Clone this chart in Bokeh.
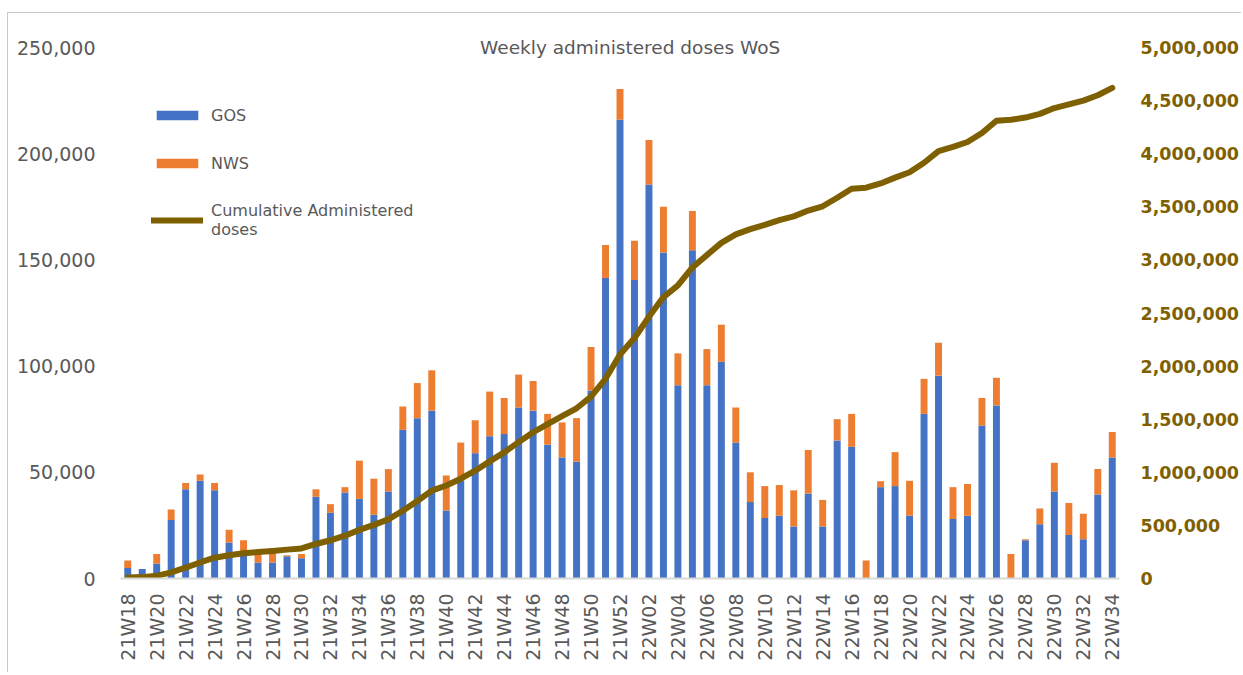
from bokeh.plotting import figure
from bokeh.models import (ColumnDataSource, Range1d, LinearAxis, NumeralTickFormatter,
                          FixedTicker, Legend, LegendItem, Label)
from bokeh.embed import file_html
from bokeh.resources import INLINE
from math import pi

weeks = ["21W18", "21W19", "21W20", "21W21", "21W22", "21W23", "21W24", "21W25", "21W26", "21W27",
         "21W28", "21W29", "21W30", "21W31", "21W32", "21W33", "21W34", "21W35", "21W36", "21W37",
         "21W38", "21W39", "21W40", "21W41", "21W42", "21W43", "21W44", "21W45", "21W46", "21W47",
         "21W48", "21W49", "21W50", "21W51", "21W52", "22W01", "22W02", "22W03", "22W04", "22W05",
         "22W06", "22W07", "22W08", "22W09", "22W10", "22W11", "22W12", "22W13", "22W14", "22W15",
         "22W16", "22W17", "22W18", "22W19", "22W20", "22W21", "22W22", "22W23", "22W24", "22W25",
         "22W26", "22W27", "22W28", "22W29", "22W30", "22W31", "22W32", "22W33", "22W34"]

gos = [5000, 4500, 7000, 27500, 42000, 46000, 41500, 17000, 11000, 7500,
       7500, 10500, 9500, 38500, 31000, 40500, 37500, 30000, 41000, 70000,
       75500, 79000, 32000, 46000, 59000, 67000, 68000, 80500, 79000, 63000,
       57000, 55000, 88500, 141500, 216000, 140500, 185500, 153500, 91000, 154500,
       91000, 102000, 64000, 36000, 28500, 29500, 24500, 40000, 24500, 65000,
       62000, 0, 43000, 43500, 29500, 77500, 95500, 28000, 29500, 72000,
       81500, 0, 18000, 25500, 41000, 20500, 18500, 39500, 57000]

nws = [3500, 0, 4500, 5000, 3000, 3000, 3500, 6000, 7000, 4000,
       4500, 500, 2000, 3500, 4000, 2500, 18000, 17000, 10500, 11000,
       16500, 19000, 16500, 18000, 15500, 21000, 17000, 15500, 14000, 14500,
       16500, 20500, 20500, 15500, 14500, 18500, 21000, 21500, 15000, 18500,
       17000, 17500, 16500, 14000, 15000, 14500, 17000, 20500, 12500, 10000,
       15500, 8500, 2800, 16000, 16500, 16500, 15500, 15000, 15000, 13000,
       13000, 11500, 500, 7500, 13500, 15000, 12000, 12000, 12000]

cumulative = [8500, 13000, 25000, 57000, 102000, 151000, 196000, 219000, 237000, 249000,
              260000, 272000, 283000, 325000, 360000, 403000, 458000, 505000, 557000, 638000,
              730000, 828000, 876000, 940000, 1015000, 1103000, 1188000, 1284000, 1377000, 1454000,
              1528000, 1603000, 1712000, 1880000, 2110000, 2265000, 2465000, 2650000, 2760000, 2930000,
              3045000, 3160000, 3240000, 3290000, 3330000, 3375000, 3410000, 3465000, 3505000, 3585000,
              3670000, 3680000, 3720000, 3775000, 3825000, 3915000, 4025000, 4065000, 4110000, 4195000,
              4310000, 4320000, 4340000, 4375000, 4430000, 4465000, 4500000, 4550000, 4620000]

left_ticks = [0, 50000, 100000, 150000, 200000, 250000]
right_ticks = [0, 500000, 1000000, 1500000, 2000000, 2500000, 3000000, 3500000, 4000000, 4500000, 5000000]

BLUE = "#4472C4"
ORANGE = "#ED7D31"
GOLD = "#7F6000"
GRAY = "#595959"
FONT = "DejaVu Sans"

idx = list(range(len(weeks)))
source = ColumnDataSource(dict(i=idx, week=weeks, GOS=gos, NWS=nws, cum=cumulative))

# frame is 550 px tall; 250,000 sits 531 px above the baseline
p = figure(x_range=Range1d(-0.5, len(weeks) - 0.5), y_range=Range1d(0, 250000 * 550 / 531),
           width=1234, height=660, output_backend="svg", toolbar_location=None,
           min_border_left=112, min_border_right=120, min_border_top=15, min_border_bottom=95)
p.extra_y_ranges = {"cum": Range1d(0, 5000000 * 550 / 531)}

bars = p.vbar_stack(["GOS", "NWS"], x="i", width=0.48, color=[BLUE, ORANGE],
                    line_color=None, source=source)
line = p.line(x="i", y="cum", y_range_name="cum", line_color=GOLD, line_width=6,
              line_join="round", line_cap="round", source=source)

p.xgrid.visible = False
p.ygrid.visible = False
p.outline_line_color = None
p.background_fill_color = "white"
p.border_fill_color = "white"

# left axis
ya = p.yaxis[0]
ya.ticker = FixedTicker(ticks=left_ticks)
ya.formatter = NumeralTickFormatter(format="0,0")
ya.axis_line_color = None
ya.major_tick_line_color = None
ya.minor_tick_line_color = None
ya.major_tick_out = 0
ya.minor_tick_out = 0
ya.major_label_text_color = GRAY
ya.major_label_text_font = FONT
ya.major_label_text_font_size = "19px"
ya.major_label_standoff = 25

# right axis
ra = LinearAxis(y_range_name="cum", ticker=FixedTicker(ticks=right_ticks),
                formatter=NumeralTickFormatter(format="0,0"))
ra.axis_line_color = None
ra.major_tick_line_color = None
ra.minor_tick_line_color = None
ra.major_tick_out = 0
ra.minor_tick_out = 0
ra.major_label_text_color = GOLD
ra.major_label_text_font = FONT
ra.major_label_text_font_style = "bold"
ra.major_label_text_font_size = "17.5px"
ra.major_label_standoff = 21
p.add_layout(ra, "right")

# x axis: label every other week
xa = p.xaxis[0]
xa.ticker = FixedTicker(ticks=idx[::2], minor_ticks=[])
xa.major_label_overrides = {i: w for i, w in zip(idx, weeks)}
xa.axis_line_color = "#D9D9D9"
xa.axis_line_width = 2
xa.major_tick_line_color = None
xa.minor_tick_line_color = None
xa.major_tick_out = 0
xa.minor_tick_out = 0
xa.major_label_orientation = pi / 2
xa.major_label_text_color = GRAY
xa.major_label_text_font = FONT
xa.major_label_text_font_size = "19px"
xa.major_label_standoff = 15

title = Label(x=(len(weeks) - 1) / 2 + 0.7, y=250000, text="Weekly administered doses WoS",
              text_align="center", text_baseline="middle", text_color=GRAY, text_font=FONT,
              text_font_size="18.5px")
p.add_layout(title)

legend = Legend(items=[LegendItem(label="GOS", renderers=[bars[0]]),
                       LegendItem(label="NWS", renderers=[bars[1]]),
                       LegendItem(label="Cumulative Administered\ndoses", renderers=[line])],
                location=(31, 339), orientation="vertical", glyph_width=52, glyph_height=12,
                label_standoff=8, spacing=28, padding=0, margin=0, border_line_color=None,
                background_fill_alpha=0, label_text_font=FONT, label_text_font_size="16px",
                label_text_color=GRAY, label_height=20)
p.add_layout(legend)

p.styles = {"margin-left": "7px", "margin-top": "12px",
            "border-left": "1px solid #C8C8C8", "border-top": "1px solid #C8C8C8"}

open("out.html", "w").write(file_html(p, INLINE))
